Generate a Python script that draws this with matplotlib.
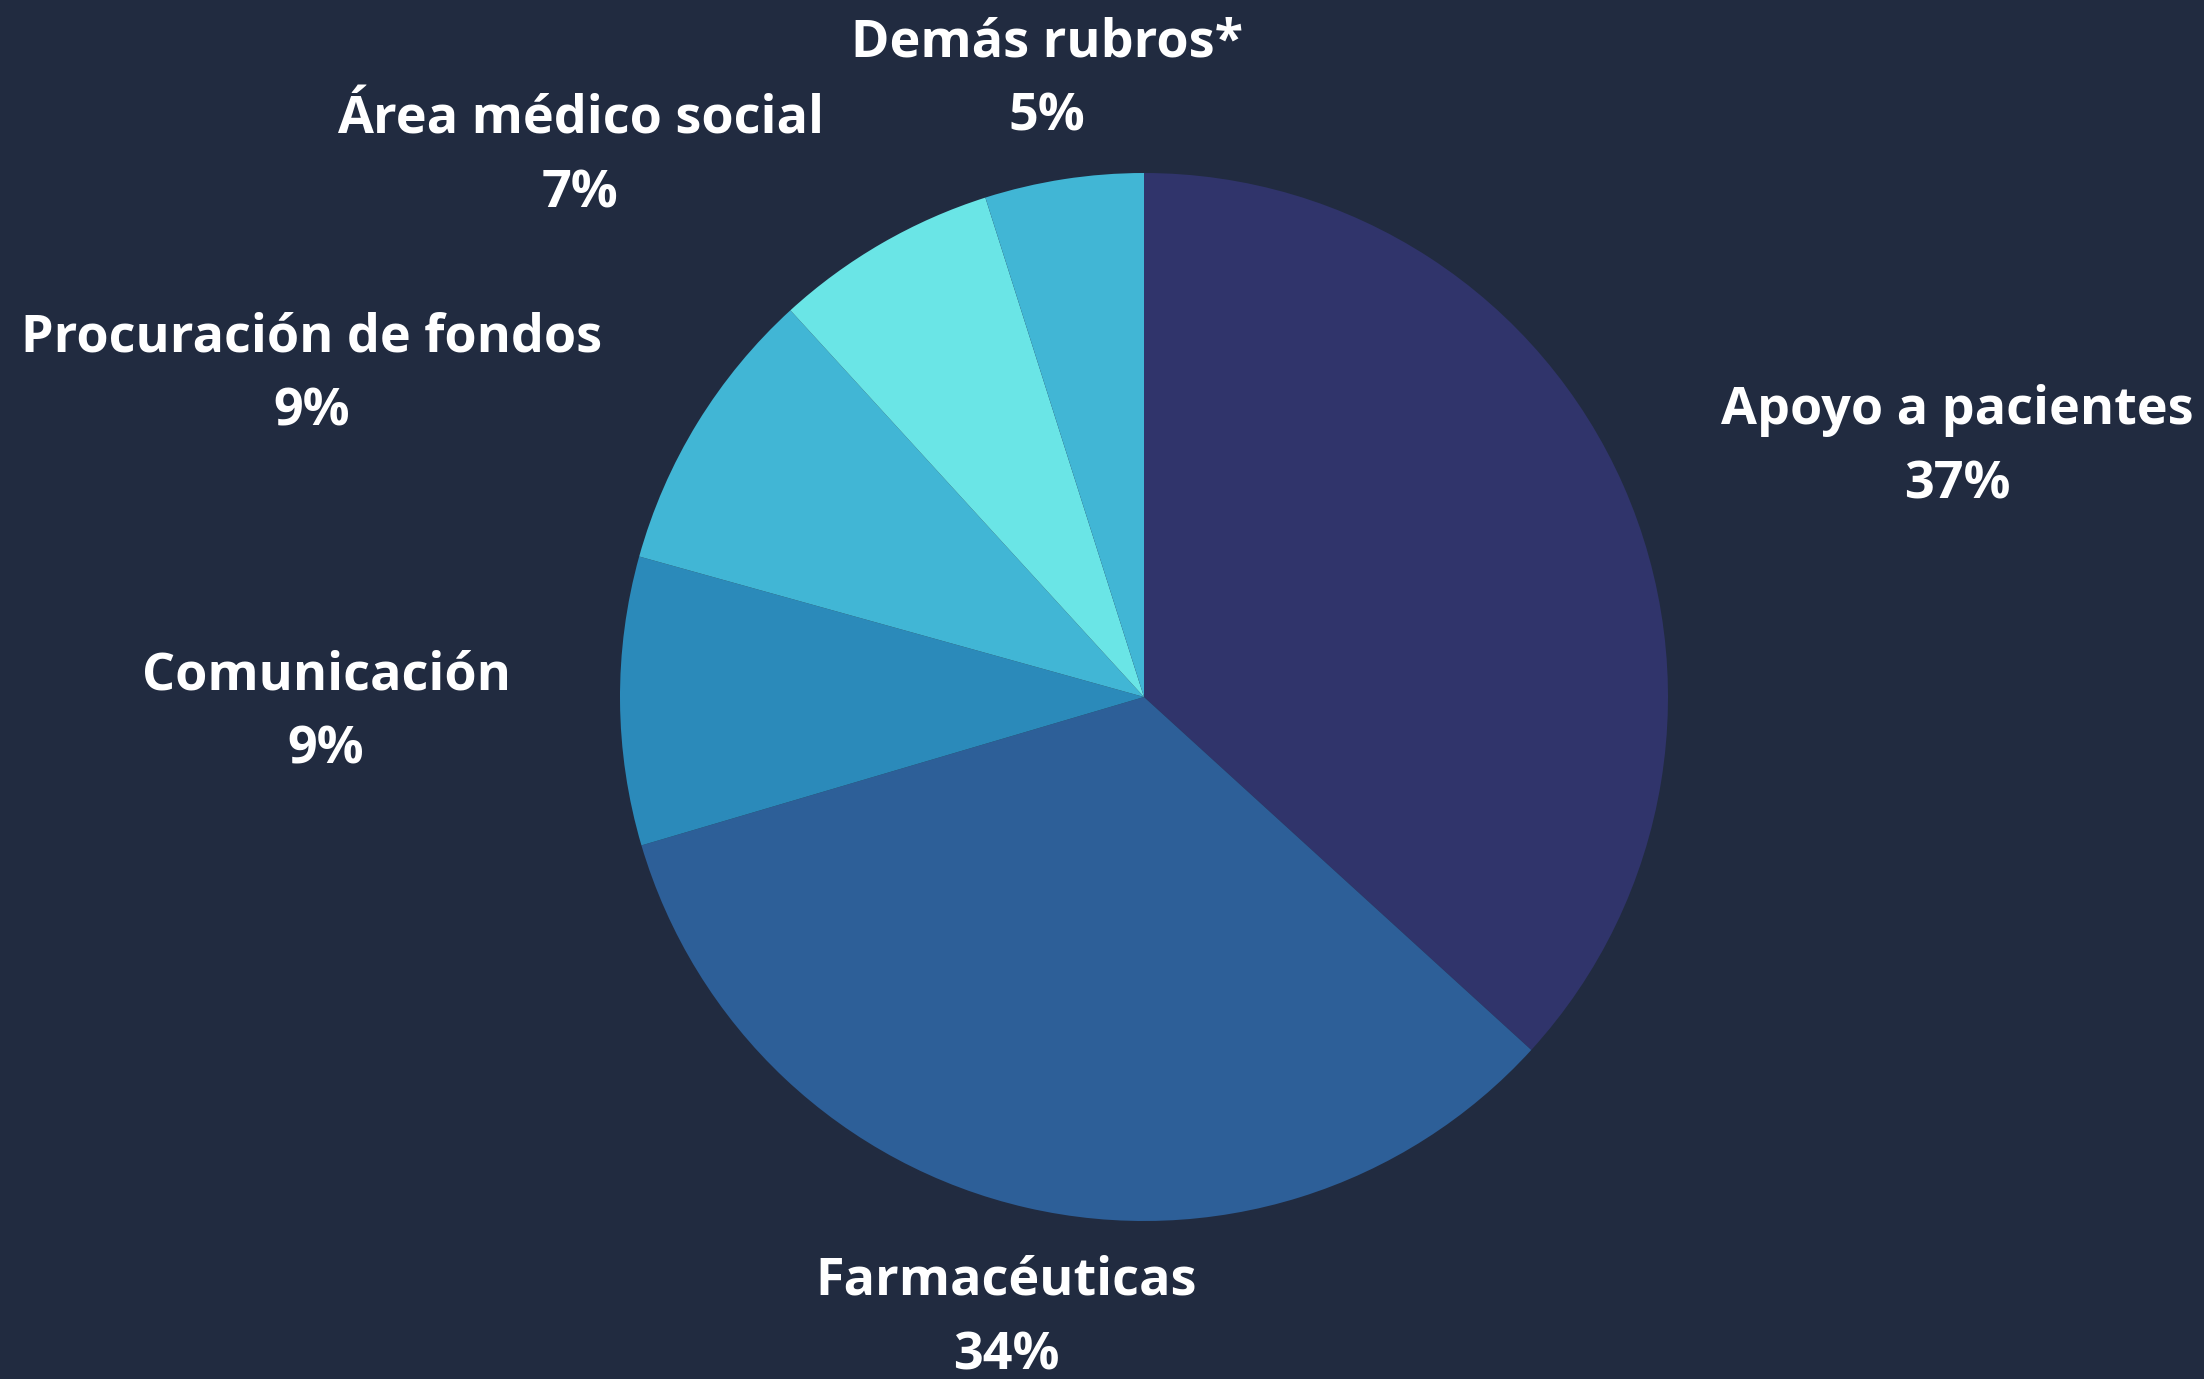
import matplotlib.pyplot as plt
import numpy as np

# datos del gráfico
categorias = ["Apoyo a pacientes", "Farmacéuticas", "Comunicación",
              "Procuración de fondos", "Área médico social", "Demás rubros*"]
valores = [36.8, 33.7, 8.9, 8.9, 6.9, 4.9]
etiquetas_pct = ["37%", "34%", "9%", "9%", "7%", "5%"]
colores = ["#30346b", "#2d5f98", "#2b8aba", "#41b6d5", "#6ae5e6", "#41b6d5"]

# posición de cada etiqueta (en radios, relativo al centro del pastel)
pos_etiquetas = [(1.553, 0.476), (-0.263, -1.186), (-1.561, -0.030),
                 (-1.588, 0.614), (-1.076, 1.030), (-0.185, 1.178)]

fondo = "#212b40"
plt.rcParams['font.family'] = ['Open Sans', 'DejaVu Sans']

fig = plt.figure(figsize=(22.04, 13.79), dpi=100, facecolor=fondo)
ax = fig.add_axes([0, 0, 1, 1])
ax.set_facecolor(fondo)

ax.pie(valores, colors=colores, startangle=90, counterclock=False,
       radius=1.0, wedgeprops=dict(linewidth=0, antialiased=True))

for nombre, pct, (x, y) in zip(categorias, etiquetas_pct, pos_etiquetas):
    ax.text(x, y, nombre + "\n" + pct, ha="center", va="center",
            fontsize=37.5, fontweight="bold", color="white", linespacing=1.53)

# 1 unidad = 524 px, centro en (1144, 697)
ax.set_xlim(-1144 / 524, (2204 - 1144) / 524)
ax.set_ylim(-(1379 - 697) / 524, 697 / 524)
ax.set_aspect("equal")
ax.axis("off")

fig.savefig("out.png", dpi=100, facecolor=fondo)
